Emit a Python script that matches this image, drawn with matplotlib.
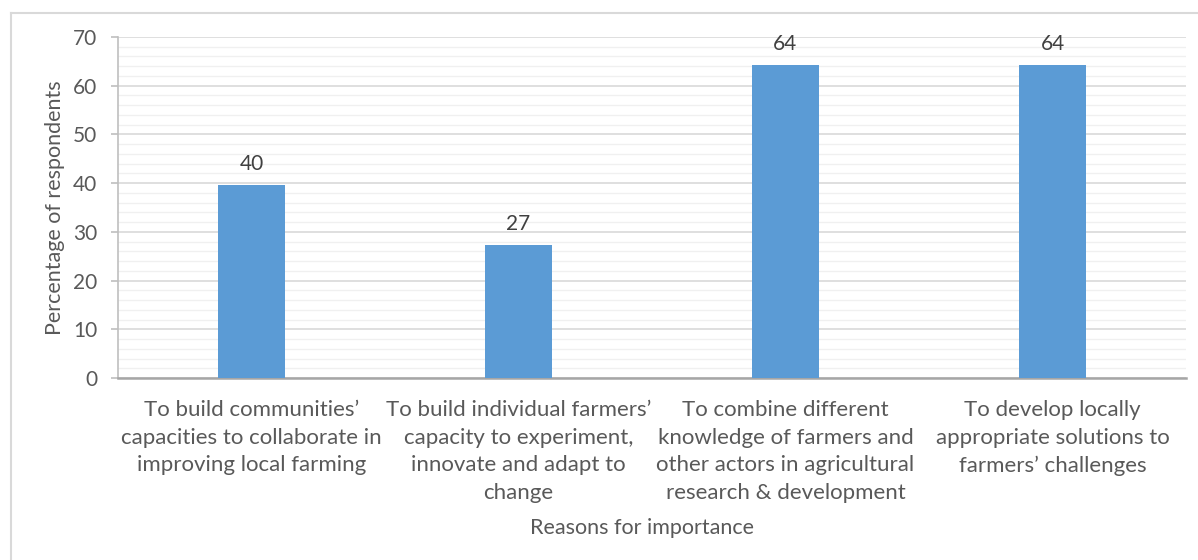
import matplotlib
matplotlib.use("Agg")
import matplotlib.pyplot as plt
from matplotlib.lines import Line2D
from matplotlib.ticker import MultipleLocator

categories = [
    "To build communities’\ncapacities to collaborate in\nimproving local farming",
    "To build individual farmers’\ncapacity to experiment,\ninnovate and adapt to\nchange",
    "To combine different\nknowledge of farmers and\nother actors in agricultural\nresearch & development",
    "To develop locally\nappropriate solutions to\nfarmers’ challenges",
]
values = [39.6, 27.3, 64.2, 64.2]
value_labels = ["40", "27", "64", "64"]
y_label = "Percentage of respondents"
x_label = "Reasons for importance"

plt.rcParams['font.family'] = ['Lato', 'DejaVu Sans']
text_color = "#595959"

fig = plt.figure(figsize=(11.98, 5.6), dpi=100)
ax = fig.add_axes([118/1198, 1-378/560, (1186-118)/1198, (378-37)/560])

x = list(range(len(categories)))
bars = ax.bar(x, values, width=0.25, color="#5b9bd5", zorder=3)
for xi, v, lab in zip(x, values, value_labels):
    ax.annotate(lab, (xi, v), xytext=(0, 8), textcoords="offset points",
                ha="center", va="bottom", fontsize=15, color="#404040")

ax.set_xlim(-0.5, 3.5)
ax.set_ylim(0, 70)
ax.yaxis.set_major_locator(MultipleLocator(10))
ax.yaxis.set_minor_locator(MultipleLocator(2))
ax.grid(axis="y", which="major", color="#d9d9d9", linewidth=1.2, zorder=0)
ax.grid(axis="y", which="minor", color="#f0f0f0", linewidth=1.0, zorder=0)
ax.set_axisbelow(True)

for s in ["top", "right"]:
    ax.spines[s].set_visible(False)
ax.spines["left"].set_color("#bfbfbf")
ax.spines["left"].set_linewidth(1.2)
ax.spines["bottom"].set_color("#a6a6a6")
ax.spines["bottom"].set_linewidth(1.8)

ax.tick_params(axis="y", which="major", length=5, width=1.2, color="#bfbfbf",
               labelsize=15, labelcolor=text_color, pad=10)
ax.tick_params(axis="y", which="minor", length=0)
ax.set_xticks(x)
ax.set_xticklabels(categories, fontsize=16, color=text_color, linespacing=1.47)
ax.tick_params(axis="x", length=0, pad=16)

ax.set_ylabel(y_label, fontsize=15.5, color=text_color)
ax.yaxis.set_label_coords(-0.059, 0.5)
ax.yaxis.label.set_va("center")
ax.set_xlabel(x_label, fontsize=15.5, color=text_color)
ax.xaxis.set_label_coords(0.4906, -0.44)
ax.xaxis.label.set_va("center")

# outer chart border (top and left visible)
fig.add_artist(Line2D([11/1198, 11/1198], [0, 1-13/560], color="#d9d9d9", linewidth=1.5,
                      transform=fig.transFigure))
fig.add_artist(Line2D([11/1198, 1], [1-13/560, 1-13/560], color="#d9d9d9", linewidth=1.5,
                      transform=fig.transFigure))

fig.savefig("out.png", dpi=100)
